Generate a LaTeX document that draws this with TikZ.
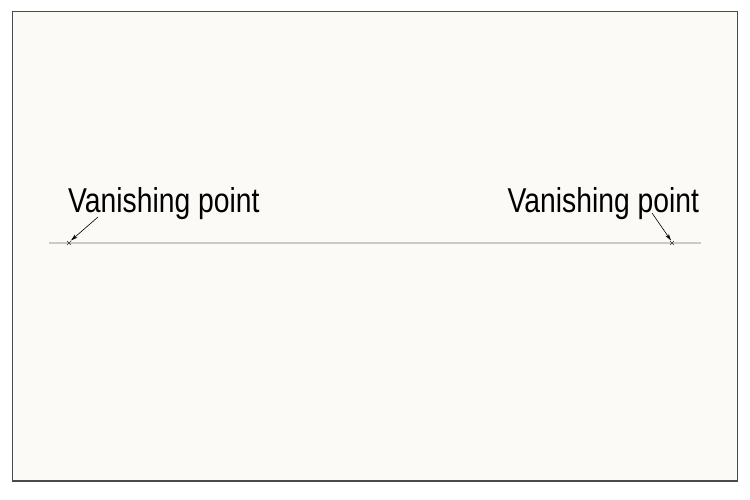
\documentclass[tikz,border=0pt]{standalone}
\usepackage{fontspec}
\setmainfont{Liberation Sans}
\newfontfamily\narrowsans[FakeStretch=0.82]{Liberation Sans}
\usetikzlibrary{arrows.meta,calc}
\definecolor{paper}{HTML}{FBFAF6}
\definecolor{horizon}{HTML}{CACAC8}
\definecolor{framec}{HTML}{4A4A4A}
\begin{document}
\begin{tikzpicture}[x=1pt,y=-1pt,
  label/.style={inner sep=0pt,anchor=base west,font=\narrowsans\fontsize{34.5}{38}\selectfont},
  pointer/.style={draw=black,line width=0.6pt,-{Stealth[length=7pt,width=4pt]}},
  vpmark/.style={draw=black!80,line width=0.5pt}]
\useasboundingbox (0,0) rectangle (750,500);
\fill[white] (0,0) rectangle (750,500);
\filldraw[fill=paper,draw=framec,line width=1.3pt] (12.5,11.5) rectangle (737.5,481);
% horizon
\coordinate (hl) at (49,243);
\coordinate (hr) at (701,243);
\draw[horizon,line width=2pt] (hl) -- (hr);
% vanishing points
\coordinate (vpl) at (69,243);
\coordinate (vpr) at (672,243);
\foreach \p in {vpl,vpr}{
  \draw[vpmark] ($(\p)+(-2,-2)$) -- ($(\p)+(2,2)$) ($(\p)+(-2,2)$) -- ($(\p)+(2,-2)$);
}
% labels
\node[label] (tl) at (68,212) {Vanishing point};
\node[label] (tr) at (507.5,212) {Vanishing point};
\coordinate (al) at (98,217);
\coordinate (ar) at (652,213);
\draw[pointer] (al) -- ($(vpl)+(2,-2.5)$);
\draw[pointer] (ar) -- ($(vpr)+(-1,-2.5)$);
\end{tikzpicture}
\end{document}
